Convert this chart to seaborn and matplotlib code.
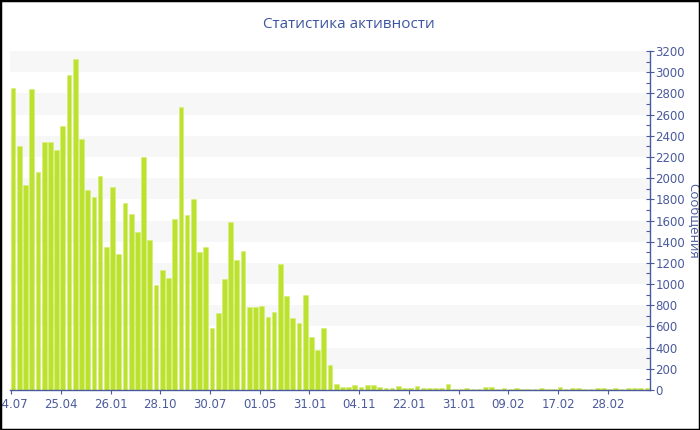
import matplotlib
matplotlib.use("Agg")
import matplotlib.pyplot as plt
from matplotlib.patches import Rectangle
from matplotlib.ticker import MultipleLocator
import seaborn as sns
import pandas as pd
import numpy as np

title = "Статистика активности"
y_label = "Сообщения"

counts = [
    2848, 2306, 1935, 2838, 2058, 2338, 2341, 2265, 2495, 2973,
    3124, 2366, 1891, 1822, 2017, 1353, 1916, 1284, 1762, 1658,
    1494, 2197, 1416, 988, 1135, 1060, 1617, 2669, 1655, 1806,
    1300, 1353, 585, 727, 1048, 1586, 1224, 1309, 783, 781,
    796, 692, 739, 1192, 885, 680, 632, 894, 503, 378,
    582, 236, 57, 30, 25, 47, 28, 47, 47, 25,
    22, 16, 38, 22, 16, 38, 22, 16, 19, 19,
    57, 9, 9, 19, 13, 13, 28, 28, 13, 22,
    13, 19, 13, 13, 13, 19, 13, 13, 25, 13,
    19, 19, 13, 13, 16, 16, 13, 16, 13, 16,
    19, 19, 16,
]
tick_labels = ["24.07", "25.04", "26.01", "28.10", "30.07", "01.05", "31.01",
               "04.11", "22.01", "31.01", "09.02", "17.02", "28.02"]
tick_step = 8

BLUE = "#4a5a9c"
BAR = "#bce12e"

sns.set_theme(style="white")
plt.rcParams["font.family"] = ["DejaVu Sans"]

fig = plt.figure(figsize=(7, 4.3), dpi=100)
ax = fig.add_axes([10 / 700, 40 / 430, 640 / 700, 339 / 430])

# alternating bands
for lo in range(200, 3200, 400):
    ax.axhspan(lo, lo + 200, color="#f7f7f7", lw=0, zorder=0)

df = pd.DataFrame({"idx": list(range(len(counts))), "val": counts})
sns.barplot(data=df, x="idx", y="val", color=BAR, saturation=1, width=0.76,
            edgecolor="#d4ef70", linewidth=0.4, ax=ax, zorder=2)

ax.set_xlim(-0.5, len(counts) - 0.5)
ax.set_ylim(0, 3200)

ax.set_xticks([i * tick_step - 0.3 for i in range(len(tick_labels))])
ax.set_xticklabels(tick_labels)
ax.set_xlabel("")

ax.yaxis.tick_right()
ax.yaxis.set_label_position("right")
ax.yaxis.set_major_locator(MultipleLocator(200))
ax.yaxis.set_minor_locator(MultipleLocator(100))
ax.set_ylabel(y_label, rotation=270, color=BLUE, fontsize=9.5, labelpad=10,
              family=["Open Sans", "DejaVu Sans"])

ax.tick_params(axis="y", which="major", direction="inout", length=6, width=0.8,
               colors=BLUE, labelsize=8.5, pad=1, right=True, left=False)
ax.tick_params(axis="y", which="minor", direction="in", length=3, width=0.8,
               color=BLUE, right=True, left=False)
ax.tick_params(axis="x", which="major", direction="out", length=3, width=0.8,
               colors=BLUE, labelsize=8.5, pad=3, bottom=True)

for s in ["left", "top"]:
    ax.spines[s].set_visible(False)
for s in ["bottom", "right"]:
    ax.spines[s].set_visible(True)
    ax.spines[s].set_color(BLUE)
    ax.spines[s].set_linewidth(1)
ax.set_facecolor("white")

fig.text(349 / 700, 1 - 25 / 430, title, ha="center", va="center",
         color="#3d55a0", fontsize=11, family=["Open Sans", "DejaVu Sans"])

fig.add_artist(Rectangle((0, 0), 1, 1, transform=fig.transFigure, fill=False,
                         ec="black", lw=2.5, zorder=10))

fig.savefig("out.png", dpi=100, facecolor="white")
